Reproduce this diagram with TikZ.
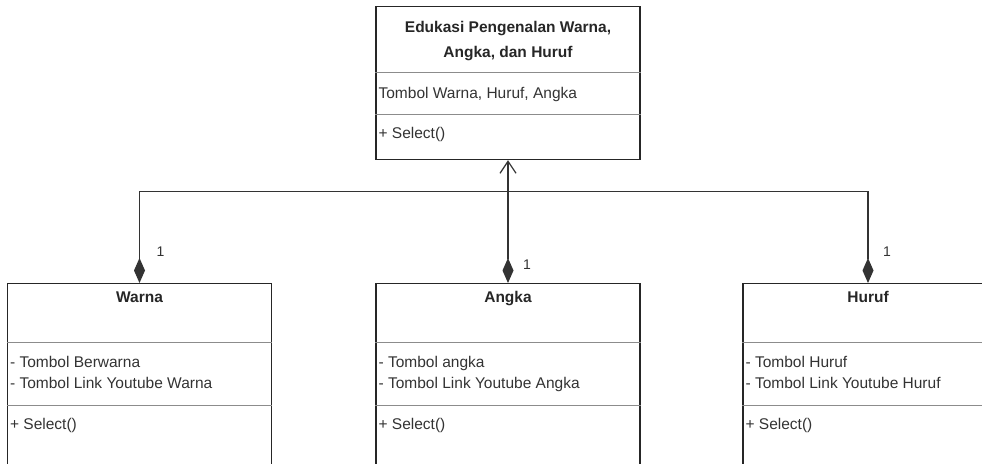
\documentclass[tikz,border=0pt]{standalone}
\usepackage{fontspec}
\setmainfont{Liberation Sans}
\usetikzlibrary{arrows.meta,positioning}

\begin{document}
\begin{tikzpicture}[x=1pt,y=1pt]

\tikzset{classbox/.style={draw=black!85, line width=1.2pt, minimum width=264pt, minimum height=230pt, anchor=north, inner sep=0pt},
         topbox/.style={classbox, minimum height=153pt},
         sepline/.style={draw=black!45, line width=1pt},
         title/.style={font=\fontsize{15.5}{25}\selectfont\bfseries, text=black!85, align=center, inner sep=0pt, anchor=base},
         member/.style={font=\fontsize{15.5}{21}\selectfont, text=black!80, align=left, anchor=base west, inner sep=0pt},
         mult/.style={font=\fontsize{14}{16}\selectfont, text=black!80, inner sep=0pt},
         link/.style={draw=black!80, line width=1.2pt}}

\useasboundingbox (0,0) rectangle (982,-463);
\clip (0,0) rectangle (982,-463);

% parent class
\node[topbox] (edukasi) at (508,-6) {};
\node[title] (edukasiname) at ([yshift=-51pt]edukasi.north) {Edukasi Pengenalan Warna,\\Angka, dan Huruf};
\draw[sepline] ([yshift=-66pt]edukasi.north west) -- ([yshift=-66pt]edukasi.north east);
\node[member] (edukasiattr) at ([shift={(3pt,-92.5pt)}]edukasi.north west) {Tombol Warna, Huruf, Angka};
\draw[sepline] ([yshift=-108pt]edukasi.north west) -- ([yshift=-108pt]edukasi.north east);
\node[member] (edukasiop) at ([shift={(3pt,-132.5pt)}]edukasi.north west) {+ Select()};

% child classes
\node[classbox] (warna) at (139.5,-283) {};
\node[classbox] (angka) at (508,-283) {};
\node[classbox, minimum width=250pt] (huruf) at (868,-283) {};

\foreach \cls/\name/\attrs in {warna/Warna/{- Tombol Berwarna\\- Tombol Link Youtube Warna},
                              angka/Angka/{- Tombol angka\\- Tombol Link Youtube Angka},
                              huruf/Huruf/{- Tombol Huruf\\- Tombol Link Youtube Huruf}}{
  \node[title] (\cls name) at ([yshift=-19.5pt]\cls.north) {\name};
  \draw[sepline] ([yshift=-59pt]\cls.north west) -- ([yshift=-59pt]\cls.north east);
  \node[member] (\cls attr) at ([shift={(3pt,-105pt)}]\cls.north west) {\attrs};
  \draw[sepline] ([yshift=-122pt]\cls.north west) -- ([yshift=-122pt]\cls.north east);
  \node[member] (\cls op) at ([shift={(3pt,-146.5pt)}]\cls.north west) {+ Select()};
}

% composition links
\coordinate (hub) at ([yshift=-31pt]edukasi.south);
\draw[link, {Straight Barb[length=12pt,width=16pt]}-{Diamond[length=25pt,width=11pt]}] (edukasi.south) -- (angka.north);
\draw[link, -{Diamond[length=25pt,width=11pt]}] (hub) -| (warna.north);
\draw[link, -{Diamond[length=25pt,width=11pt]}] (hub) -| (huruf.north);

\node[mult] (multwarna) at ([shift={(21pt,31pt)}]warna.north) {1};
\node[mult] (multangka) at ([shift={(19pt,18pt)}]angka.north) {1};
\node[mult] (multhuruf) at ([shift={(19pt,31pt)}]huruf.north) {1};

\end{tikzpicture}
\end{document}
